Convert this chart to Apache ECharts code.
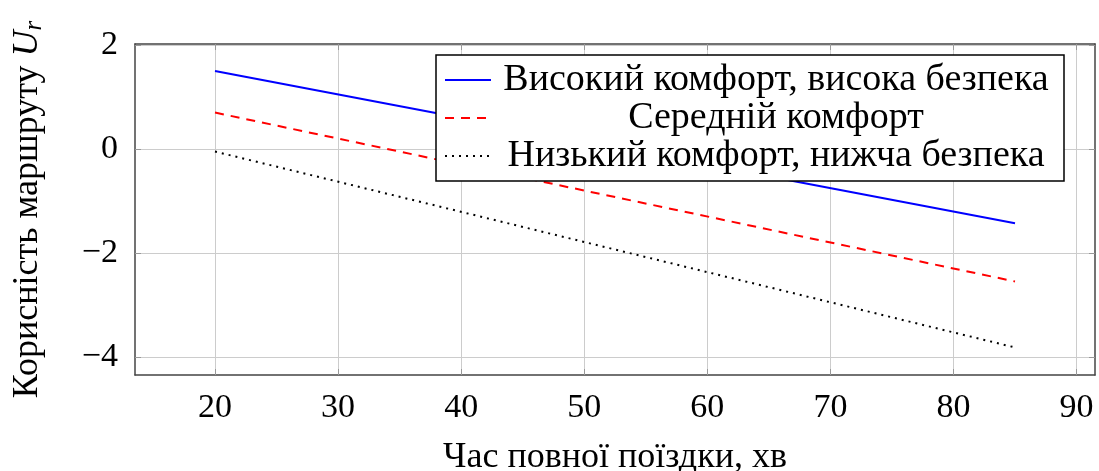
<!DOCTYPE html>
<html><head><meta charset="utf-8">
<script src="https://cdn.jsdelivr.net/npm/echarts@6/dist/echarts.min.js"></script>
<style>html,body{margin:0;padding:0;background:#fff}#c{width:1099px;height:471px}</style>
</head><body><div id="c"></div>
<script>
const xTicks = [20, 30, 40, 50, 60, 70, 80, 90];
const yTicks = [-4, -2, 0, 2];
const times = [20, 85];
const names = ['Високий комфорт, висока безпека', 'Середній комфорт', 'Низький комфорт, нижча безпека'];
const highComfort = [1.5, -1.43];
const midComfort = [0.7, -2.55];
const lowComfort = [-0.05, -3.82];

const F = 'Liberation Serif';
const gridCol = '#cccccc';
const frameCol = '#444444';
function pairs(v){ return times.map((t,i)=>[t, v[i]]); }
const chart = echarts.init(document.getElementById('c'), null, {renderer:'canvas'});
const mkX = (pos, show) => ({
  type:'value', position:pos, min:13.5, max:91.5,
  axisLine:{show:true, onZero:false, lineStyle:{color:frameCol, width:1.5}},
  axisTick:{show:true, inside:true, length:6, customValues:xTicks, lineStyle:{color:'#999'}},
  axisLabel:{show:show, customValues:xTicks, fontFamily:F, fontSize:34, color:'#000', margin:16},
  splitLine:{show:show, lineStyle:{color:gridCol, width:1}},
  name: show ? 'Час повної поїздки, хв' : '', nameLocation:'middle', nameGap:65,
  nameTextStyle:{fontFamily:F, fontSize:36, color:'#000'}
});
const mkY = (pos, show) => ({
  type:'value', position:pos, min:-4.35, max:2.02,
  axisLine:{show:true, onZero:false, lineStyle:{color:frameCol, width:1.5}},
  axisTick:{show:true, inside:true, length:6, customValues:yTicks, lineStyle:{color:'#999'}},
  axisLabel:{show:show, customValues:yTicks, fontFamily:F, fontSize:34, color:'#000', margin:17,
    formatter:v=> (v<0? '\u2212'+Math.abs(v): String(v))},
  splitLine:{show:show, lineStyle:{color:gridCol, width:1}},
  name: show ? '{n|Корисність маршруту }{u|U}{s|r}' : '', nameLocation:'middle', nameGap:88,
  nameTextStyle:{fontFamily:F, fontSize:36, color:'#000',
    rich:{n:{fontFamily:F, fontSize:36, color:'#000'}, u:{fontFamily:F, fontSize:36, fontStyle:'italic', color:'#000'},
      s:{fontFamily:F, fontSize:25, fontStyle:'italic', color:'#000', padding:[14,0,0,0]}}}
});
const option = {
  animation:false,
  backgroundColor:'#fff',
  grid:{left:135, right:4, top:44, bottom:96, show:false, outerBoundsMode:'none', containLabel:false},
  xAxis:[mkX('bottom', true), mkX('top', false)],
  yAxis:[mkY('left', true), mkY('right', false)],
  legend:{
    orient:'vertical', left:436, top:55,
    backgroundColor:'#fff', borderColor:'#000', borderWidth:1.5,
    padding:[6,8,6,8], itemGap:0, itemWidth:46, itemHeight:14,
    itemStyle:{opacity:0},
    data:names,
    formatter: n => '{t|'+n+'}',
    textStyle:{fontFamily:F, fontSize:38, color:'#000',
      rich:{t:{fontFamily:F, fontSize:38, color:'#000', width:560, align:'center', lineHeight:42}}}
  },
  series:[
    {name:names[0], type:'line', data:pairs(highComfort), symbol:'none', lineStyle:{color:'#0000ff', width:2}, itemStyle:{color:'#0000ff'}},
    {name:names[1], type:'line', data:pairs(midComfort), symbol:'none', lineStyle:{color:'#ff0000', width:2, type:[9,7]}, itemStyle:{color:'#ff0000'}},
    {name:names[2], type:'line', data:pairs(lowComfort), symbol:'none', lineStyle:{color:'#000', width:2, type:[2,5]}, itemStyle:{color:'#000'}}
  ]
};
chart.setOption(option);
</script></body></html>
